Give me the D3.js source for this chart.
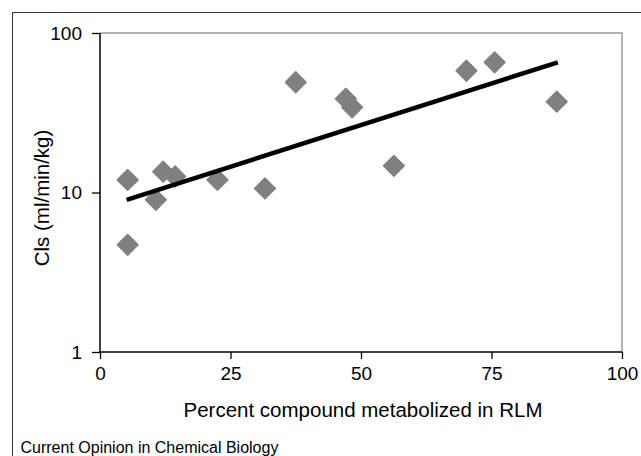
<!DOCTYPE html>
<html>
<head>
<meta charset="utf-8">
<script src="https://cdn.jsdelivr.net/npm/d3@7"></script>
<style>
	body { margin: 0; background: #fff; }
	svg { display: block; font-family: Arial, "Liberation Sans", sans-serif; }
	.tick text { fill: #000; }
</style>
</head>
<body>
<svg id="chart" width="641" height="456"></svg>
<script>
// percent metabolized in RLM vs clearance (log scale)
const pctMetabolized = [5.3, 5.3, 10.7, 12.1, 14.4, 22.5, 31.6, 37.5, 47.1, 48.3, 56.3, 70.2, 75.6, 87.5];
const clearance = [12.0, 4.7, 9.0, 13.5, 12.6, 12.0, 10.6, 49.1, 38.7, 34.2, 14.7, 58.0, 65.5, 37.1];

// exponential trendline, read at its two ends
const trendX = [5.1, 87.7];
const trendY = [9.0, 65.5];

const xTicks = [0, 25, 50, 75, 100];
const yTicks = [1, 10, 100];

const svg = d3.select("#chart");
const plot = { left: 100, right: 622, top: 33, bottom: 352 };

const x = d3.scaleLinear().domain([0, 100]).range([plot.left, plot.right]);
const y = d3.scaleLog().domain([1, 100]).range([plot.bottom, plot.top]);

// outer figure frame (left and top edges)
svg.append("path")
	.attr("d", "M12.5,456V12.5H641")
	.attr("fill", "none")
	.attr("stroke", "#333")
	.attr("stroke-width", 1);

// plot area border, top and right
svg.append("path")
	.attr("d", `M${plot.left},${plot.top}H${plot.right}V${plot.bottom}`)
	.attr("fill", "none")
	.attr("stroke", "#999")
	.attr("stroke-width", 1.5);

const xAxis = svg.append("g")
	.attr("transform", `translate(0,${plot.bottom})`)
	.call(d3.axisBottom(x).tickValues(xTicks).tickSize(7).tickPadding(8).tickFormat(d3.format("d")));
const yAxis = svg.append("g")
	.attr("transform", `translate(${plot.left},0)`)
	.call(d3.axisLeft(y).tickValues(yTicks).tickSize(8).tickPadding(10).tickFormat(d3.format("d")));

[xAxis, yAxis].forEach(g => {
	g.select(".domain").attr("stroke", "#000").attr("stroke-width", 1.5);
	g.selectAll(".tick line").attr("stroke", "#000").attr("stroke-width", 1.3);
	g.selectAll(".tick text").attr("font-size", 19).attr("font-family", "Arial, 'Liberation Sans', sans-serif");
});
xAxis.select(".domain").attr("d", `M${plot.left},0H${plot.right}`);
yAxis.select(".domain").attr("d", `M0,${plot.bottom}V${plot.top}`);

// points
const diamond = d3.symbol(d3.symbolSquare, 215);
svg.append("g").selectAll("path")
	.data(pctMetabolized.map((v, i) => [v, clearance[i]]))
	.join("path")
	.attr("d", diamond)
	.attr("transform", d => `translate(${x(d[0])},${y(d[1])}) rotate(45)`)
	.attr("fill", "#808080")
	.attr("stroke", "#808080")
	.attr("stroke-width", 1.5)
	.attr("stroke-linejoin", "round");

// trendline
svg.append("path")
	.datum(trendX.map((v, i) => [v, trendY[i]]))
	.attr("d", d3.line().x(d => x(d[0])).y(d => y(d[1])))
	.attr("fill", "none")
	.attr("stroke", "#000")
	.attr("stroke-width", 4.5);

// titles
svg.append("text")
	.attr("x", (plot.left + plot.right) / 2 + 2)
	.attr("y", 417)
	.attr("text-anchor", "middle")
	.attr("font-size", 20.5)
	.text("Percent compound metabolized in RLM");

svg.append("text")
	.attr("transform", "translate(49,198) rotate(-90)")
	.attr("text-anchor", "middle")
	.attr("font-size", 20.5)
	.text("Cls (ml/min/kg)");

svg.append("text")
	.attr("x", 20.5)
	.attr("y", 452.5)
	.attr("font-size", 16)
	.text("Current Opinion in Chemical Biology");
</script>
</body>
</html>
